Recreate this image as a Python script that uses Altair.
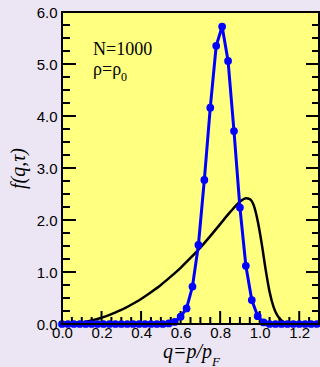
import altair as alt
import pandas as pd

# ---- data ----
q_blue = [0.00, 0.03, 0.06, 0.09, 0.12, 0.15, 0.18, 0.21, 0.24, 0.27, 0.30,
          0.33, 0.36, 0.39, 0.42, 0.45, 0.48, 0.51, 0.54, 0.57, 0.60, 0.63,
          0.66, 0.69, 0.72, 0.75, 0.78, 0.81, 0.84, 0.87, 0.90, 0.93, 0.96,
          0.99, 1.02, 1.05, 1.08, 1.11, 1.14, 1.17, 1.20, 1.23, 1.26, 1.29]
f_blue = [0, 0, 0, 0, 0, 0, 0, 0, 0, 0, 0,
          0, 0, 0, 0, 0, 0, 0, 0.01, 0.04, 0.14, 0.30,
          0.72, 1.52, 2.77, 4.16, 5.35, 5.72, 5.06, 3.71, 2.24, 1.12, 0.46,
          0.15, 0.03, 0, 0, 0, 0, 0, 0, 0, 0, 0]

q_black = [0.00, 0.05, 0.10, 0.15, 0.20, 0.25, 0.30, 0.35, 0.40, 0.45, 0.50,
           0.55, 0.60, 0.65, 0.70, 0.75, 0.80, 0.85, 0.90, 0.93, 0.95, 0.97,
           0.99, 1.01, 1.03, 1.05, 1.07, 1.09, 1.11, 1.14, 1.20, 1.30]
f_black = [0.00, 0.01, 0.03, 0.07, 0.12, 0.19, 0.27, 0.37, 0.48, 0.61, 0.75,
           0.91, 1.08, 1.27, 1.47, 1.69, 1.92, 2.15, 2.35, 2.42, 2.40, 2.28,
           1.98, 1.55, 1.05, 0.62, 0.33, 0.16, 0.07, 0.02, 0.00, 0.00]

x_labels = [0.0, 0.2, 0.4, 0.6, 0.8, 1.0, 1.2]
y_labels = [0, 1, 2, 3, 4, 5, 6]
x_minor = [0.05, 0.10, 0.15, 0.25, 0.30, 0.35, 0.45, 0.50, 0.55, 0.65, 0.70,
           0.75, 0.85, 0.90, 0.95, 1.05, 1.10, 1.15, 1.25]
y_minor = [0.25, 0.5, 0.75, 1.25, 1.5, 1.75, 2.25, 2.5, 2.75, 3.25, 3.5,
           3.75, 4.25, 4.5, 4.75, 5.25, 5.5, 5.75]

W, H = 257, 312
PL, PT, PR, PB = 62, 12, 1, 43

xs = alt.Scale(domain=[0, 1.3], nice=False, zero=False)
ys = alt.Scale(domain=[0, 6], nice=False, zero=False)

xaxis = alt.Axis(
    values=x_labels, format=".1f", ticks=False, domain=False, grid=False,
    labelFont="Liberation Sans", labelFontSize=15, labelColor="black",
    labelPadding=1, title=None, labelFlush=False)
yaxis = alt.Axis(
    values=y_labels, format=".1f", ticks=False, domain=False, grid=False,
    labelFont="Liberation Sans", labelFontSize=15, labelColor="black",
    labelPadding=5, labelFlush=False,
    title="f(q,τ)", titleFont="Liberation Serif", titleFontStyle="italic",
    titleFontSize=20, titleFontWeight="normal", titleColor="black",
    titleX=-38, titleY=H / 2, titleAngle=270, titleAlign="center",
    titleBaseline="alphabetic")

blue_df = pd.DataFrame({"q": q_blue, "f": f_blue})
black_df = pd.DataFrame({"q": q_black, "f": f_black})
one = pd.DataFrame({"a": [0]})

plotbg = alt.Chart(one).mark_rect(fill="#FFFF80").encode(
    x=alt.value(0), x2=alt.value(W), y=alt.value(0), y2=alt.value(H))

def yticks(vals, x1, x2):
    return alt.Chart(pd.DataFrame({"v": vals})).mark_rule(
        color="black", strokeWidth=2, clip=False).encode(
        y=alt.Y("v:Q", scale=ys), x=alt.value(x1), x2=alt.value(x2))

def xticks(vals, y1, y2):
    return alt.Chart(pd.DataFrame({"v": vals})).mark_rule(
        color="black", strokeWidth=2, clip=False).encode(
        x=alt.X("v:Q", scale=xs), y=alt.value(y1), y2=alt.value(y2))

ticks = [
    yticks(y_labels, 0, 14), yticks(y_minor, 0, 8),
    yticks(y_labels, W - 13, W), yticks(y_minor, W - 7, W),
    xticks(x_labels, H - 13, H), xticks(x_minor, H - 7, H),
]

black = alt.Chart(black_df).mark_line(
    color="black", strokeWidth=2.5, interpolate="monotone", clip=True
).encode(
    x=alt.X("q:Q", scale=xs, axis=xaxis),
    y=alt.Y("f:Q", scale=ys, axis=yaxis),
)

blue_line = alt.Chart(blue_df).mark_line(color="#0000FF", strokeWidth=3, clip=False).encode(
    x=alt.X("q:Q", scale=xs), y=alt.Y("f:Q", scale=ys))
blue_pts = alt.Chart(blue_df).mark_circle(color="#0000FF", size=60, opacity=1, clip=False).encode(
    x=alt.X("q:Q", scale=xs), y=alt.Y("f:Q", scale=ys))

border = alt.Chart(one).mark_rect(fillOpacity=0, stroke="black", strokeWidth=2).encode(
    x=alt.value(0), x2=alt.value(W), y=alt.value(0), y2=alt.value(H))

def txt(s, x, y, size, style="normal"):
    return alt.Chart(one).mark_text(
        text=s, font="Liberation Serif", fontSize=size, fontStyle=style,
        align="left", baseline="alphabetic", color="black", clip=False
    ).encode(x=alt.value(x), y=alt.value(y))

texts = [
    txt("N=1000", 31, 43, 18),
    txt("ρ=ρ", 31, 63, 18),
    txt("0", 59, 69, 12),
    txt("q=p/p", 101, H + 34, 20, "italic"),
    txt("F", 150, H + 42, 13, "italic"),
]

chart = alt.layer(plotbg, black, *ticks, blue_line, blue_pts, border, *texts).properties(
    width=W, height=H,
    autosize=alt.AutoSizeParams(type="none"),
    padding={"left": PL, "top": PT, "right": PR, "bottom": PB},
).configure(background="#ECE5F4")

chart.save("out.html", embed_options={"renderer": "svg", "actions": False})
